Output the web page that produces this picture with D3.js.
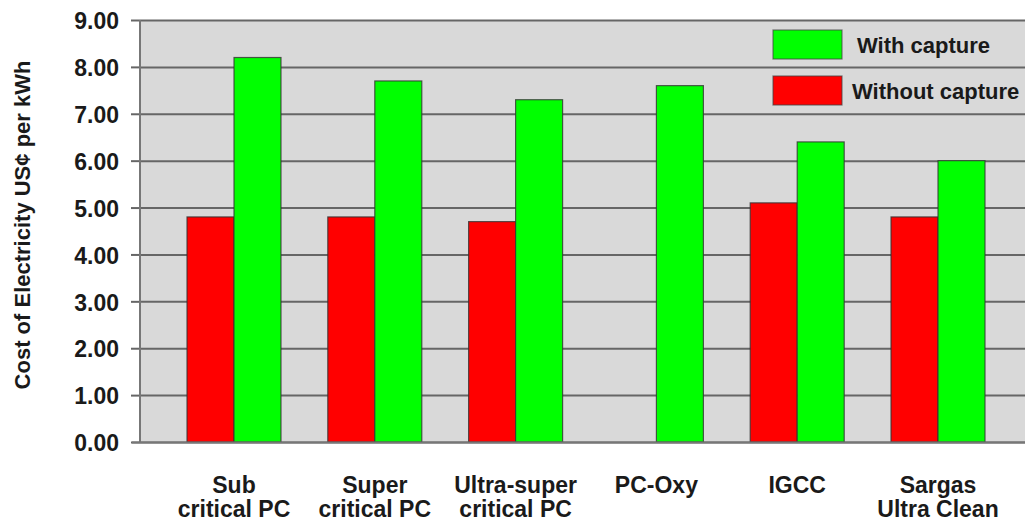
<!DOCTYPE html>
<html><head><meta charset="utf-8">
<script src="https://cdn.jsdelivr.net/npm/d3@7"></script>
<style>
html,body{margin:0;padding:0;background:#fff;}
svg text{font-family:"Liberation Sans",Arial,Helvetica,sans-serif;font-weight:bold;fill:#1a1a1a;}
</style></head>
<body>
<svg id="chart" width="1025" height="522"></svg>
<script>
const categories = [["Sub","critical PC"],["Super","critical PC"],["Ultra-super","critical PC"],["PC-Oxy"],["IGCC"],["Sargas","Ultra Clean"]];
const withoutCapture = [4.8, 4.8, 4.7, null, 5.1, 4.8];
const withCapture = [8.2, 7.7, 7.3, 7.6, 6.4, 6.0];
const seriesNames = ["Without capture", "With capture"];
const seriesColors = ["#ff0000", "#00ff00"];
const yTicks = [0,1,2,3,4,5,6,7,8,9];
const yTitle = "Cost of Electricity US¢ per kWh";

const svg = d3.select("#chart");
const plot = {left:140, top:20, right:1040, bottom:442};
const FS = "23px";

const y = d3.scaleLinear().domain([0,9]).range([plot.bottom, plot.top]);
const catKeys = categories.map((c,i)=>i);
const x0 = d3.scaleBand().domain(catKeys).range([163.6, 163.6+6*140.8]).padding(0);
const x1 = d3.scaleBand().domain(seriesNames).range([x0.bandwidth()/2-47, x0.bandwidth()/2+47]).padding(0);

// background
svg.append("rect").attr("x",plot.left).attr("y",plot.top)
  .attr("width",plot.right-plot.left).attr("height",plot.bottom-plot.top)
  .attr("fill","#d9d9d9");

// gridlines + ticks
const yAxis = d3.axisLeft(y).tickValues(yTicks).tickSize(-(plot.right-plot.left)).tickPadding(21)
  .tickFormat(d3.format(".2f"));
const ga = svg.append("g").attr("transform",`translate(${plot.left},0)`).call(yAxis);
ga.select(".domain").remove();
ga.selectAll(".tick line").attr("stroke","#666").attr("stroke-width",2);
ga.selectAll(".tick").append("line").attr("x1",-9).attr("x2",0).attr("stroke","#666").attr("stroke-width",2);
ga.selectAll(".tick text").style("font-size",FS).attr("fill","#1a1a1a").attr("dy","0.38em")
  .style("font-family","'Liberation Sans',Arial,sans-serif").style("font-weight","bold");

// left border
svg.append("line").attr("x1",plot.left).attr("x2",plot.left).attr("y1",plot.top).attr("y2",plot.bottom)
  .attr("stroke","#777").attr("stroke-width",2);

// bars
const rows = categories.map((c,i)=>({i, vals:[withoutCapture[i], withCapture[i]]}));
const groups = svg.append("g").selectAll("g").data(rows).join("g")
  .attr("transform",d=>`translate(${x0(d.i)},0)`);
groups.selectAll("rect").data(d=>d.vals.map((v,k)=>({v,k})).filter(e=>e.v!=null)).join("rect")
  .attr("x",e=>x1(seriesNames[e.k])).attr("width",x1.bandwidth())
  .attr("y",e=>y(e.v)).attr("height",e=>y(0)-y(e.v))
  .attr("fill",e=>seriesColors[e.k]).attr("stroke","#333").attr("stroke-opacity",0.8).attr("stroke-width",1.2);

// bottom axis line
svg.append("line").attr("x1",132).attr("x2",1025).attr("y1",plot.bottom+0.5).attr("y2",plot.bottom+0.5)
  .attr("stroke","#777").attr("stroke-width",2);

// x labels
const xl = svg.append("g").selectAll("text").data(rows).join("text")
  .attr("x",d=>x0(d.i)+x0.bandwidth()/2).attr("y",493).attr("text-anchor","middle")
  .style("font-size",FS);
xl.each(function(d){
  const t = d3.select(this);
  categories[d.i].forEach((line,j)=>{
    t.append("tspan").attr("x",x0(d.i)+x0.bandwidth()/2).attr("dy", j===0?0:24).text(line);
  });
});

// y title
svg.append("text").attr("transform","translate(30,225) rotate(-90)").attr("text-anchor","middle")
  .style("font-size","22px").text(yTitle);

// legend
const legend = [
  {name:"With capture", color:seriesColors[1], sy:30, tx:857, ty:53},
  {name:"Without capture", color:seriesColors[0], sy:76, tx:852, ty:99}
];
const lg = svg.append("g");
lg.selectAll("rect").data(legend).join("rect")
  .attr("x",773).attr("y",d=>d.sy).attr("width",69).attr("height",29)
  .attr("fill",d=>d.color).attr("stroke","#444").attr("stroke-opacity",0.7).attr("stroke-width",1.2);
lg.selectAll("text").data(legend).join("text")
  .attr("x",d=>d.tx).attr("y",d=>d.ty).style("font-size","22px").text(d=>d.name);
</script>
</body></html>
